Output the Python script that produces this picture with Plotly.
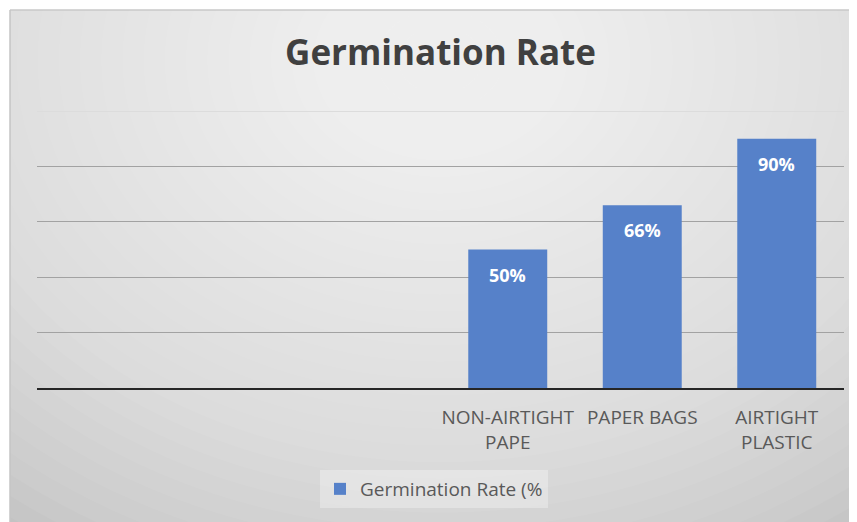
import plotly.graph_objects as go

# ---- data ----
categories = ["NON-AIRTIGHT<br>PAPE", "PAPER BAGS", "AIRTIGHT<br>PLASTIC"]
values = [50, 66, 90]
value_labels = ["50%", "66%", "90%"]
series_name = "Germination Rate (%"
title_text = "Germination Rate"
empty_slots = 3
y_ticks = [0, 20, 40, 60, 80]
y_top_tick = [100]

# ---- geometry (page pixels; the page body has an 8px margin) ----
PAGE_W, PAGE_H = 857, 522
OFF = 8
W, H = PAGE_W - OFF, PAGE_H - OFF
PLOT_X0, PLOT_X1, PLOT_Y0, PLOT_Y1 = 37, 844, 110, 388  # page px
L = PLOT_X0 - OFF
R = W - (PLOT_X1 - OFF)
T = PLOT_Y0 - OFF
B = H - (PLOT_Y1 - OFF)
pw, ph = W - L - R, H - T - B


def px_x(p):  # page px -> paper x
    return (p - OFF - L) / pw


def px_y(p):  # page px -> paper y
    return (H - B - (p - OFF)) / ph


FONT = "Open Sans"
BAR = "#5681C9"
TXT = "#595959"

fig = go.Figure()
fig.add_trace(go.Bar(
    x=categories, y=values, name=series_name,
    marker=dict(color=BAR, line=dict(width=0)),
    showlegend=True,
))

# data labels inside top of bars
for c, v, lab in zip(categories, values, value_labels):
    fig.add_annotation(x=c, y=v, yshift=-25, text=lab, showarrow=False,
                       font=dict(family=FONT, size=18, color="white", weight="bold"))

shapes = []
# grey card background
shapes.append(dict(type="rect", xref="paper", yref="paper",
                   x0=px_x(10), x1=px_x(PAGE_W + 2), y0=px_y(PAGE_H + 2), y1=px_y(10),
                   fillcolor="#c3c3c3", line=dict(width=0), layer="below"))
# radial gradient via stacked translucent ellipses
cx, cy = 440, 60
n = 34
for i in range(n):
    f = 1 - i / n
    rx, ry = 720 * f, 570 * f
    shapes.append(dict(type="circle", xref="paper", yref="paper",
                       x0=px_x(cx - rx), x1=px_x(cx + rx),
                       y0=px_y(cy + ry), y1=px_y(cy - ry),
                       fillcolor="rgba(255,255,255,0.055)", line=dict(width=0),
                       layer="below"))
# white margin strips (left/top)
shapes.append(dict(type="rect", xref="paper", yref="paper",
                   x0=px_x(-20), x1=px_x(9.5), y0=px_y(PAGE_H + 20), y1=px_y(-20),
                   fillcolor="white", line=dict(width=0), layer="below"))
shapes.append(dict(type="rect", xref="paper", yref="paper",
                   x0=px_x(-20), x1=px_x(PAGE_W + 20), y0=px_y(9.5), y1=px_y(-20),
                   fillcolor="white", line=dict(width=0), layer="below"))
# subtle shadow edges
shapes.append(dict(type="line", xref="paper", yref="paper",
                   x0=px_x(10), x1=px_x(PAGE_W + 2), y0=px_y(10), y1=px_y(10),
                   line=dict(color="#c8c8c8", width=1.5), layer="below"))
shapes.append(dict(type="line", xref="paper", yref="paper",
                   x0=px_x(10), x1=px_x(10), y0=px_y(10), y1=px_y(PAGE_H + 2),
                   line=dict(color="#c4c4c4", width=1.5), layer="below"))

fig.update_layout(
    width=W, height=H,
    margin=dict(l=L, r=R, t=T, b=B),
    paper_bgcolor="white",
    plot_bgcolor="rgba(0,0,0,0)",
    shapes=shapes,
    bargap=0.413,
    title=dict(text=title_text, x=0.5, xref="paper", xanchor="center",
               y=1 - 45 / H, yref="container", yanchor="middle",
               font=dict(family=FONT, size=35, color="#404040", weight="bold")),
    font=dict(family=FONT, color=TXT),
    xaxis=dict(type="category", range=[-empty_slots - 0.5, len(categories) - 0.5],
               showgrid=False, showline=True, linecolor="#262626", linewidth=2,
               ticks="", ticklabelstandoff=11,
               tickfont=dict(family=FONT, size=19, color=TXT),
               fixedrange=True),
    yaxis=dict(range=[0, 100.4], tickvals=y_ticks, showticklabels=False,
               showgrid=True, gridcolor="#a2a2a2", gridwidth=1,
               minor=dict(tickvals=y_top_tick, showgrid=True, gridcolor="#dcdcdc", ticks=""),
               zeroline=False, showline=False, ticks="", fixedrange=True),
    legend=dict(orientation="h", x=px_x(320), xanchor="left", y=px_y(470), yanchor="top",
                bgcolor="rgba(255,255,255,0.3)", borderwidth=0,
                font=dict(family=FONT, size=19, color=TXT), itemwidth=30),
)

fig.write_html("out.html")
